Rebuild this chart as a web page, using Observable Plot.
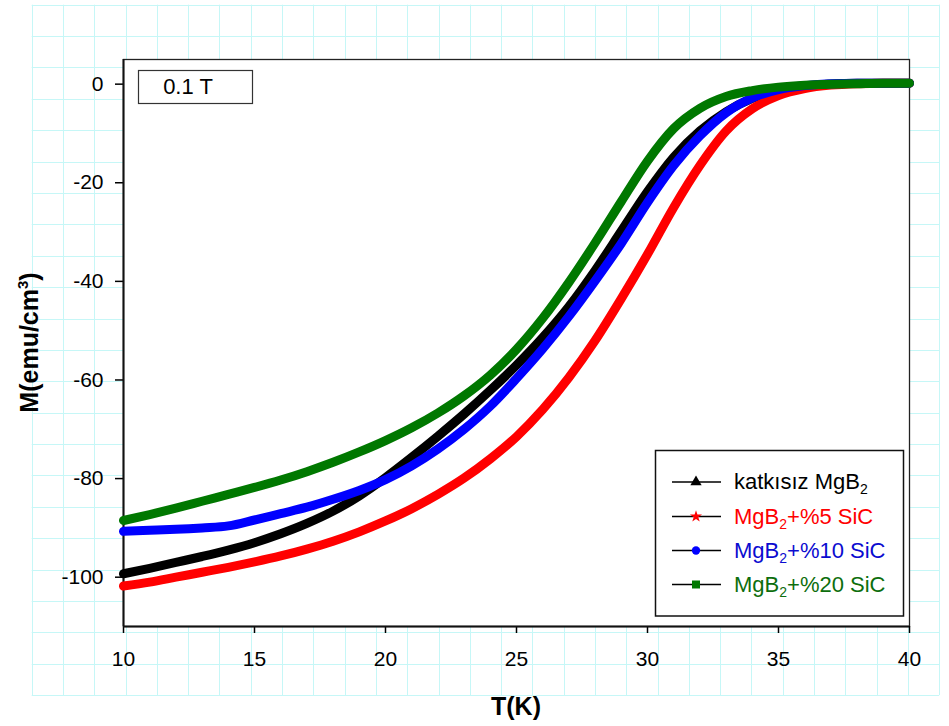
<!DOCTYPE html>
<html><head><meta charset="utf-8">
<script src="https://cdn.jsdelivr.net/npm/d3@7"></script>
<script src="https://cdn.jsdelivr.net/npm/@observablehq/plot@0.6"></script>
<style>
body{margin:0;background:#fff;}
#chart{width:949px;height:726px;}
</style></head><body><div id="chart"></div>
<script>
// Temperature (K)
const temps = [10,11,12,13,14,15,16,17,18,19,20,21,22,23,24,25,26,27,28,29,30,31,32,33,34,35,36,37,38,39,40];
// Magnetization M (emu/cm^3)
const katkisiz = [-99.3,-98.2,-97.0,-95.8,-94.5,-93.0,-91.2,-89.1,-86.6,-83.5,-79.8,-75.7,-71.4,-66.9,-62.1,-57.0,-51.4,-45.1,-37.8,-29.8,-21.8,-14.8,-9.5,-5.6,-2.9,-1.3,-0.4,0.0,0.2,0.2,0.2];
const sic5 = [-101.8,-101.0,-100.0,-99.0,-98.0,-96.9,-95.7,-94.3,-92.7,-90.8,-88.6,-86.1,-83.2,-79.9,-76.0,-71.5,-66.0,-59.5,-52.0,-43.5,-34.5,-25.0,-16.5,-9.5,-5.0,-2.3,-0.9,-0.2,0.1,0.2,0.2];
const sic10 = [-90.7,-90.5,-90.3,-90.0,-89.6,-88.4,-87.1,-85.8,-84.2,-82.4,-80.2,-77.4,-74.0,-70.0,-65.3,-59.7,-53.7,-47.1,-39.9,-32.3,-24.0,-16.5,-10.5,-5.8,-2.8,-1.1,-0.3,0.1,0.2,0.2,0.2];
const sic20 = [-88.5,-87.3,-86.0,-84.6,-83.2,-81.8,-80.3,-78.6,-76.7,-74.6,-72.3,-69.7,-66.7,-63.2,-59.0,-53.8,-47.5,-40.2,-32.2,-23.8,-15.6,-9.0,-4.9,-2.5,-1.3,-0.6,-0.2,0.0,0.1,0.2,0.2];

const seriesKeys = ["katkisiz","sic5","sic10","sic20"];
const legendMain = ["katkısız MgB","MgB","MgB","MgB"];
const legendRest = ["","+%5 SiC","+%10 SiC","+%20 SiC"];
const lineColors = ["#000000","#ff0000","#0000ff","#007800"];
const textColors = ["#000000","#ff0000","#0b0bd0","#0d6e0d"];
const legendSymbols = ["triangle","star","circle","square"];
const xTicks = [10,15,20,25,30,35,40];
const yTicks = [0,-20,-40,-60,-80,-100];
const xTitle = "T(K)";
const yTitle = "M(emu/cm";
const fieldLabel = "0.1 T";

const seriesValues = [katkisiz, sic5, sic10, sic20];
const rows = [];
seriesValues.forEach((vals, i) => vals.forEach((m, j) => rows.push({T: temps[j], M: m, s: seriesKeys[i]})));

const W = 949, H = 726, mL = 123, mR = 40, mT = 59, mB = 100;
const font = "'Liberation Sans', Arial, sans-serif";

const chart = Plot.plot({
  width: W, height: H, marginLeft: mL, marginRight: mR, marginTop: mT, marginBottom: mB,
  style: {fontFamily: font, fontSize: "21px", color: "#000", background: "white"},
  x: {domain: [10, 40]},
  y: {domain: [-110, 5]},
  color: {domain: seriesKeys, range: lineColors},
  marks: [
    Plot.frame({fill: "white", stroke: "#222", strokeWidth: 1.3}),
    Plot.axisX({ticks: xTicks, tickSize: 7, tickPadding: 18, tickFormat: d => String(d), label: null, strokeWidth: 1.5}),
    Plot.axisY({ticks: yTicks, tickSize: 8, tickPadding: 12, tickFormat: d => String(d), label: null, strokeWidth: 1.5}),
    Plot.ruleX([10], {stroke: "#111", strokeWidth: 2}),
    Plot.ruleY([-110], {stroke: "#111", strokeWidth: 2}),
    Plot.line(rows, {x: "T", y: "M", z: "s", stroke: "s", strokeWidth: 9, curve: "monotone-x", strokeLinecap: "round", strokeLinejoin: "round"})
  ]
});
document.getElementById("chart").appendChild(chart);

const svg = d3.select(chart);
// background paper grid
const grid = svg.insert("g", ":first-child").attr("stroke", "#c6f7f7").attr("stroke-width", 1);
const gx0 = 31.7, gy0 = 4.7, gdx = 31.293, gdy = 31.38, nx = 29, ny = 22;
for (let k = 0; k <= nx; k++) {
  const x = Math.round(gx0 + k * gdx) + 0.5;
  grid.append("line").attr("x1", x).attr("x2", x).attr("y1", gy0).attr("y2", gy0 + ny * gdy);
}
for (let k = 0; k <= ny; k++) {
  const y = Math.round(gy0 + k * gdy) + 0.5;
  grid.append("line").attr("y1", y).attr("y2", y).attr("x1", gx0).attr("x2", gx0 + nx * gdx);
}

const over = svg.append("g").attr("font-family", font);
// field label box
over.append("rect").attr("x", 138.5).attr("y", 70.5).attr("width", 114).attr("height", 33)
  .attr("fill", "white").attr("stroke", "#333").attr("stroke-width", 1.2);
over.append("text").attr("x", 188).attr("y", 94).attr("text-anchor", "middle").attr("font-size", 22).text(fieldLabel);

// legend
const lg = over.append("g");
lg.append("rect").attr("x", 655.5).attr("y", 450.5).attr("width", 248).attr("height", 165.5)
  .attr("fill", "white").attr("stroke", "#111").attr("stroke-width", 1.5);
const rowY = [482, 516.5, 550.5, 584.5];
const symMap = {triangle: d3.symbolTriangle, star: d3.symbolStar, circle: d3.symbolCircle, square: d3.symbolSquare};
const symSize = {triangle: 55, star: 45, circle: 55, square: 64};
seriesKeys.forEach((k, i) => {
  const y = rowY[i];
  lg.append("line").attr("x1", 672).attr("x2", 721).attr("y1", y).attr("y2", y).attr("stroke", "#000").attr("stroke-width", 1.5);
  lg.append("path").attr("d", d3.symbol(symMap[legendSymbols[i]], symSize[legendSymbols[i]])())
    .attr("transform", `translate(696,${y})`).attr("fill", lineColors[i]);
  const t = lg.append("text").attr("x", 734).attr("y", y + 7).attr("text-anchor", "start")
    .attr("font-size", 22).attr("fill", textColors[i]);
  t.append("tspan").text(legendMain[i]);
  t.append("tspan").attr("font-size", 14).attr("dy", 5).text("2");
  if (legendRest[i]) t.append("tspan").attr("dy", -5).attr("font-size", 22).text(legendRest[i]);
});

// axis titles
over.append("text").attr("x", (mL + (W - mR)) / 2).attr("y", 715).attr("text-anchor", "middle")
  .attr("font-size", 25).attr("font-weight", "bold").text(xTitle);
const yt = over.append("text").attr("transform", `translate(38,${(mT + (H - mB)) / 2}) rotate(-90)`)
  .attr("text-anchor", "middle").attr("font-size", 25).attr("font-weight", "bold");
yt.append("tspan").text(yTitle);
yt.append("tspan").attr("font-size", 15).attr("dy", -10).text("3");
yt.append("tspan").attr("font-size", 25).attr("dy", 10).text(")");
</script></body></html>
